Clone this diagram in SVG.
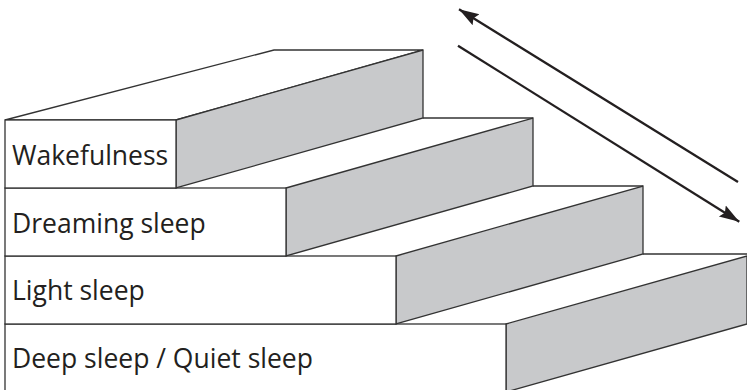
<svg xmlns="http://www.w3.org/2000/svg" width="747" height="390" viewBox="0 0 747 390">
<defs>
<style>
.face{fill:#ffffff;stroke:#333333;stroke-width:1.3;stroke-linejoin:miter}
.side{fill:#c8c9cb;stroke:#333333;stroke-width:1.3;stroke-linejoin:miter}
.edge{stroke:#333333;stroke-width:1.3}
.lbl{font-family:"Open Sans","Noto Sans",sans-serif;font-size:26.5px;fill:#231f20}
.arr{stroke:#231f20;stroke-width:2.3;fill:none}
</style>
<marker id="ah" markerUnits="userSpaceOnUse" markerWidth="22" markerHeight="16" viewBox="0 0 22 16" refX="20" refY="8" orient="auto">
<path d="M0,1.5 L20,8 L0,14.5 L3,8 z" fill="#231f20"/>
</marker>
</defs>
<rect width="747" height="390" fill="#ffffff"/>
<g id="step-deep">
<polygon class="side" points="506,324 747,256 747,324 506,392"/>
<rect class="face" x="5" y="324" width="501" height="70"/>
<text class="lbl" x="12" y="368">Deep sleep / Quiet sleep</text>
</g>
<g id="step-light">
<polygon class="side" points="396,256 643,186 643,254 396,324"/>
<rect class="face" x="5" y="256" width="391" height="68"/>
<text class="lbl" x="12" y="300">Light sleep</text>
</g>
<g id="step-dreaming">
<polygon class="side" points="286,188 533,118 533,186 286,256"/>
<rect class="face" x="5" y="188" width="281" height="68"/>
<text class="lbl" x="12" y="233">Dreaming sleep</text>
</g>
<g id="step-wake">
<polygon class="face" points="5,120 274,50 423,50 176,120"/>
<polygon class="side" points="176,120 423,50 423,118 176,188"/>
<rect class="face" x="5" y="120" width="171" height="68"/>
<text class="lbl" x="12" y="165">Wakefulness</text>
</g>
<g id="treads">
<line class="edge" x1="533" y1="118" x2="423" y2="118"/>
<line class="edge" x1="643" y1="186" x2="533" y2="186"/>
<line class="edge" x1="747" y1="254" x2="643" y2="254"/>
</g>
<g id="connectors">
<line class="arr" x1="738" y1="182" x2="459" y2="9.3" marker-end="url(#ah)"/>
<line class="arr" x1="458" y1="45.7" x2="739.3" y2="221.7" marker-end="url(#ah)"/>
</g>
</svg>
